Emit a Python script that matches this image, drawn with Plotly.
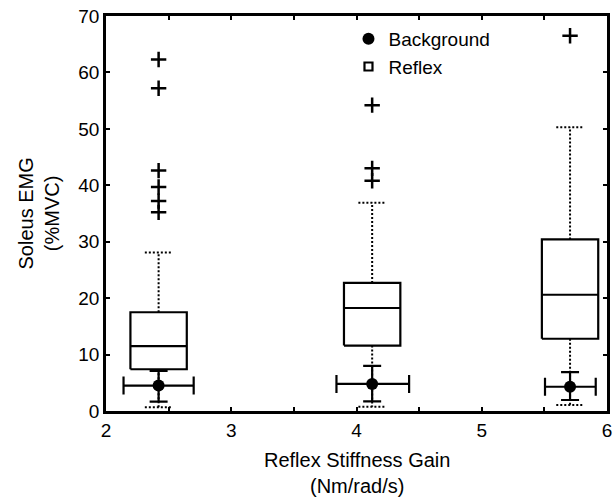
import plotly.graph_objects as go

# ---- data ----
gain_positions = [2.42, 4.125, 5.705]          # reflex stiffness gain (x)

# Reflex EMG box statistics (%MVC)
reflex_q1 = [7.4, 11.6, 12.8]
reflex_median = [11.5, 18.25, 20.6]
reflex_q3 = [17.5, 22.7, 30.4]
reflex_whisker_low = [0.65, 0.77, 1.06]
reflex_whisker_high = [28.1, 36.9, 50.3]
reflex_outliers = [
    [62.3, 57.2, 42.6, 39.7, 37.2, 35.2],
    [54.2, 43.0, 40.8],
    [66.5],
]

# Background EMG (mean with ranges)
bg_mean = [4.5, 4.8, 4.3]
bg_low = [1.65, 1.7, 1.95]
bg_high = [7.1, 8.0, 6.9]
gain_low = [2.14, 3.84, 5.505]
gain_high = [2.70, 4.42, 5.91]

x_ticks = [2, 3, 4, 5, 6]
y_ticks = [0, 10, 20, 30, 40, 50, 60, 70]

# ---- styles ----
BOX_HW = 0.225
CAP_HW = 0.11
FONT = "Liberation Sans, Arial, sans-serif"
BLACK = "black"

fig = go.Figure()

for i, xc in enumerate(gain_positions):
    # whiskers (dotted)
    fig.add_trace(go.Scatter(
        x=[xc, xc, None, xc, xc, None,
           xc - CAP_HW, xc + CAP_HW, None, xc - CAP_HW, xc + CAP_HW],
        y=[reflex_q3[i], reflex_whisker_high[i], None,
           reflex_q1[i], reflex_whisker_low[i], None,
           reflex_whisker_high[i], reflex_whisker_high[i], None,
           reflex_whisker_low[i], reflex_whisker_low[i]],
        mode="lines", line=dict(color=BLACK, width=2, dash="2px,2px"),
        showlegend=False, hoverinfo="skip"))
    # box
    fig.add_trace(go.Scatter(
        x=[xc - BOX_HW, xc + BOX_HW, xc + BOX_HW, xc - BOX_HW, xc - BOX_HW, None,
           xc - BOX_HW, xc + BOX_HW],
        y=[reflex_q1[i], reflex_q1[i], reflex_q3[i], reflex_q3[i], reflex_q1[i], None,
           reflex_median[i], reflex_median[i]],
        mode="lines", line=dict(color=BLACK, width=2.2),
        showlegend=False, hoverinfo="skip"))
    # outliers
    fig.add_trace(go.Scatter(
        x=[xc] * len(reflex_outliers[i]), y=reflex_outliers[i],
        mode="markers",
        marker=dict(symbol="cross-thin-open", size=11, color=BLACK,
                    line=dict(color=BLACK, width=2.5)),
        showlegend=False, hoverinfo="skip"))

# background points with error bars
fig.add_trace(go.Scatter(
    x=gain_positions, y=bg_mean, mode="markers", name="Background",
    marker=dict(symbol="circle", size=12, color=BLACK),
    error_y=dict(type="data", symmetric=False,
                 array=[h - m for h, m in zip(bg_high, bg_mean)],
                 arrayminus=[m - l for m, l in zip(bg_mean, bg_low)],
                 color=BLACK, thickness=2.2, width=9),
    error_x=dict(type="data", symmetric=False,
                 array=[h - m for h, m in zip(gain_high, gain_positions)],
                 arrayminus=[m - l for m, l in zip(gain_positions, gain_low)],
                 color=BLACK, thickness=2.2, width=9),
))

# legend entry for reflex
fig.add_trace(go.Scatter(
    x=[None], y=[None], mode="markers", name="Reflex",
    marker=dict(symbol="square-open", size=8, color=BLACK,
                line=dict(color=BLACK, width=2.2)),
))

axis_common = dict(
    showline=True, linecolor=BLACK, linewidth=2.5, mirror="ticks",
    ticks="inside", ticklen=4, tickwidth=1.5, tickcolor=BLACK,
    showgrid=False, zeroline=False, automargin=False,
    tickfont=dict(family=FONT, size=19, color=BLACK),
)

fig.update_layout(
    width=614, height=498,
    margin=dict(l=106, r=7, t=16, b=87, autoexpand=False),
    paper_bgcolor="white", plot_bgcolor="white",
    font=dict(family=FONT, size=20, color=BLACK),
    xaxis=dict(range=[2, 6], tickvals=x_ticks,
               minor=dict(dtick=0.5, ticks="inside", ticklen=4, tickwidth=1.5,
                          tickcolor=BLACK, showgrid=False),
               **axis_common),
    yaxis=dict(range=[0, 70], tickvals=y_ticks, **axis_common),
    annotations=[
        dict(text="Reflex Stiffness Gain<br>(Nm/rad/s)", xref="paper", yref="paper",
             x=0.5, y=-0.157, xanchor="center", yanchor="middle", showarrow=False,
             font=dict(family=FONT, size=20, color=BLACK)),
        dict(text="Soleus EMG<br>(%MVC)", xref="paper", yref="paper",
             x=-0.1357, y=0.5, xanchor="center", yanchor="middle", showarrow=False,
             textangle=-90, font=dict(family=FONT, size=20, color=BLACK)),
    ],
    showlegend=True,
    legend=dict(x=0.484, y=0.99, xanchor="left", yanchor="top",
                bgcolor="rgba(0,0,0,0)", borderwidth=0,
                font=dict(family=FONT, size=19), itemwidth=30),
)

fig.write_html("out.html",
               config={"displayModeBar": False},
               post_script="document.body.style.margin='0px';"
                           "document.body.style.overflow='hidden';")
